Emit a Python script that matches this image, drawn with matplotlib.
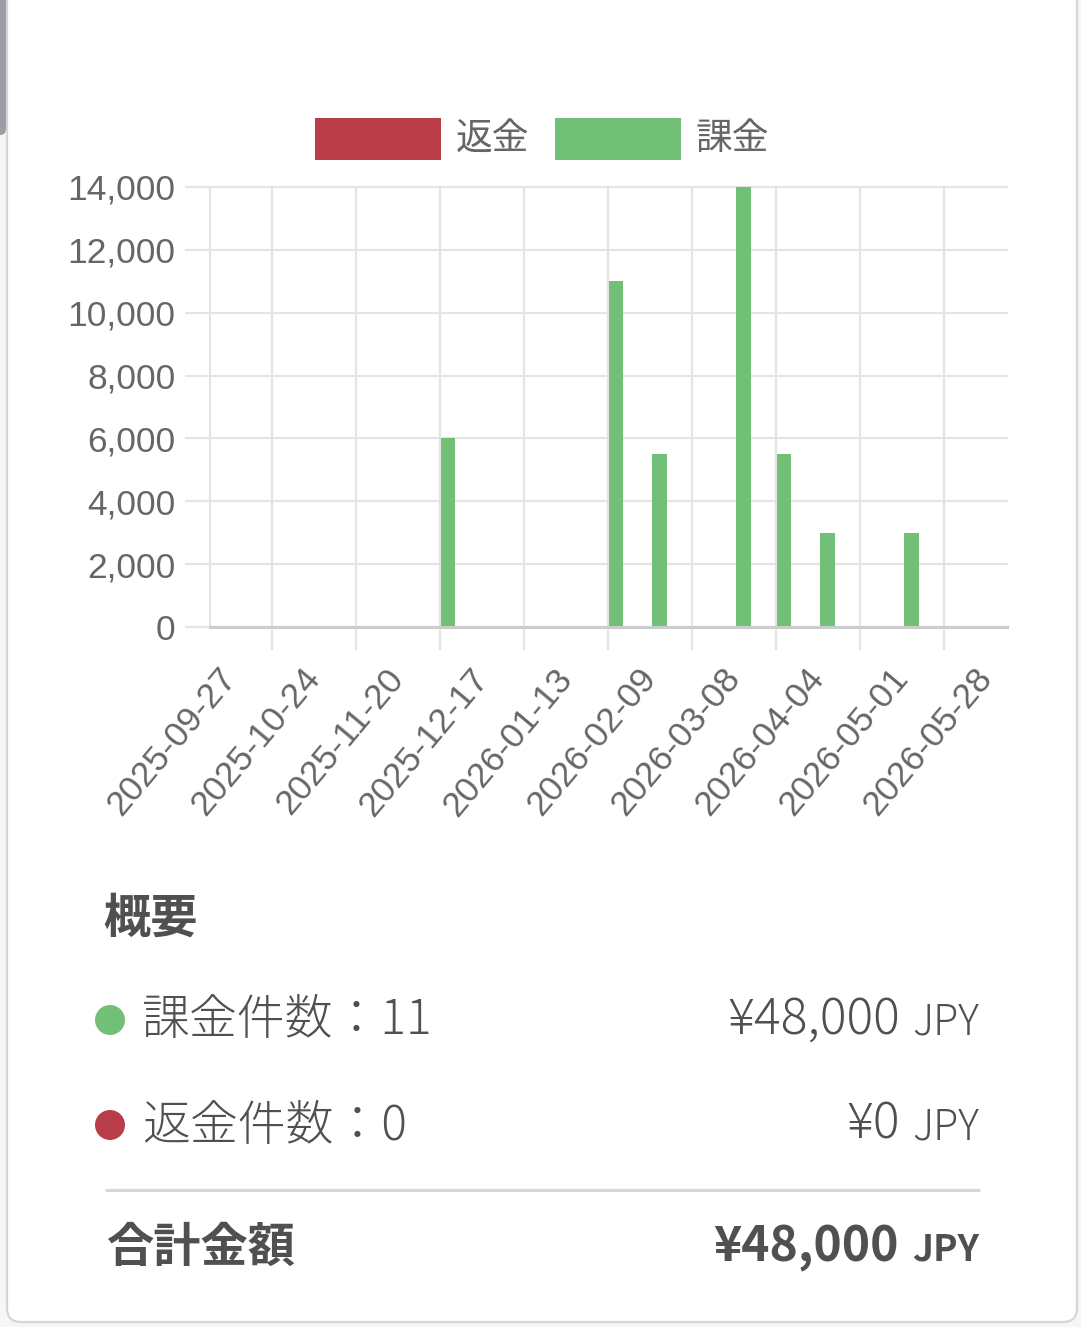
import numpy as np
import matplotlib
matplotlib.use("Agg")
import matplotlib.pyplot as plt
from matplotlib.patches import FancyBboxPatch, Rectangle, Circle

W, H = 1081, 1327

# data
base_date = np.datetime64("2025-09-27")
tick_dates = ["2025-09-27", "2025-10-24", "2025-11-20", "2025-12-17", "2026-01-13",
              "2026-02-09", "2026-03-08", "2026-04-04", "2026-05-01", "2026-05-28"]
bar_dates = ["2025-12-06", "2026-01-29", "2026-02-12", "2026-03-11",
             "2026-03-24", "2026-04-07", "2026-05-04"]
charge_values = [6000, 11000, 5500, 14000, 5500, 3000, 3000]
refund_values = [0, 0, 0, 0, 0, 0, 0]
legend_labels = ["返金", "課金"]
charge_count = 11
refund_count = 0
charge_total = 48000
refund_total = 0

RED = "#b83d48"
GREEN = "#72bf78"
GRID = "#e4e4e4"
TXT = "#666666"
DARK = "#505050"

CJK = ["Noto Sans CJK JP", "DejaVu Sans"]
LAT = ["Liberation Sans", "DejaVu Sans"]

def days(ds):
    return (np.array(ds, dtype="datetime64[D]") - base_date).astype(int)

fig = plt.figure(figsize=(W / 100, H / 100), dpi=100)
fig.patch.set_facecolor("#f6f6f7")

# background / card layer in pixel coords
bg = fig.add_axes([0, 0, 1, 1])
bg.set_xlim(0, W)
bg.set_ylim(H, 0)
bg.axis("off")
bg.add_patch(FancyBboxPatch((7, -40), 1070, 1362, boxstyle="round,pad=0,rounding_size=14",
                            facecolor="white", edgecolor="#d6d6d6", lw=1.6))
bg.add_patch(FancyBboxPatch((-12, -20), 18, 155, boxstyle="round,pad=0,rounding_size=6",
                            facecolor="#9c9ea6", edgecolor="none"))

# legend
for (x0, lab, col) in [(315, legend_labels[0], RED), (555, legend_labels[1], GREEN)]:
    bg.add_patch(Rectangle((x0, 118), 126, 42, facecolor=col, edgecolor="none"))
    bg.text(x0 + 141, 139, lab, fontsize=26.5, color=TXT, va="center", ha="left", family=CJK)

# summary
bg.text(103, 919, "概要", fontsize=34, fontweight="bold", color=DARK, va="center", family=CJK)
rows = [(1020, GREEN, f"課金件数：{charge_count}", f"¥{charge_total:,}"),
        (1125, RED, f"返金件数：{refund_count}", f"¥{refund_total:,}")]
for y, col, label, amount in rows:
    bg.add_patch(Circle((110, y), 15, facecolor=col, edgecolor="none"))
    bg.text(142, y + 1, label, fontsize=34.5, fontweight="light", color=DARK, va="center", family=CJK)
    bg.text(900, y, amount, fontsize=36, fontweight="light", color=DARK, va="center", ha="right", family=CJK)
    bg.text(979, y + 3, "JPY", fontsize=29.5, fontweight="light", color=DARK, va="center", ha="right", family=CJK)
bg.plot([105, 980], [1190, 1190], color="#d6d6d6", lw=2.2, solid_capstyle="butt")
bg.text(106, 1248, "合計金額", fontsize=34, fontweight="bold", color=DARK, va="center", family=CJK)
bg.text(899, 1247, f"¥{charge_total:,}", fontsize=34.5, fontweight="bold", color=DARK, va="center",
        ha="right", family=CJK)
bg.text(979, 1250, "JPY", fontsize=26.5, fontweight="bold", color=DARK, va="center", ha="right", family=CJK)

# chart
ax = fig.add_axes([210 / W, 1 - 627 / H, (1007 - 210) / W, 440 / H])
ax.patch.set_alpha(0)
px_per_day = 84 / 27
ax.set_xlim(-20 / px_per_day, (1007 - 230) / px_per_day)
ax.set_ylim(0, 14000)

bw = 14.5 / px_per_day
xb = days(bar_dates)
ax.bar(xb, refund_values, width=bw, color=RED, zorder=3)
ax.bar(xb, charge_values, width=bw, color=GREEN, zorder=3)

ax.set_yticks(np.arange(0, 14001, 2000))
ax.set_yticklabels([f"{v:,}" for v in range(0, 14001, 2000)], family=LAT)
ax.yaxis.grid(True, color=GRID, lw=1.5)
for gl in ax.get_ygridlines():
    gl.set_clip_on(False)

xt = days(tick_dates)
ax.set_xticks(xt)
ax.set_xticklabels(tick_dates, rotation=50, ha="right", rotation_mode="anchor", va="center", family=LAT)
ax.set_xticks(xt[:-1] + 13.5, minor=True)
ax.xaxis.grid(True, which="minor", color=GRID, lw=1.5)
ax.tick_params(axis="x", which="major", length=0, pad=33, labelsize=25.5, labelcolor=TXT)
ax.tick_params(axis="x", which="minor", length=16.5, width=1.5, color=GRID)
ax.tick_params(axis="y", length=18, width=1.5, color=GRID, pad=7, labelsize=25.5, labelcolor=TXT)
ax.set_axisbelow(True)

for s in ["top", "right"]:
    ax.spines[s].set_visible(False)
ax.spines["left"].set_color(GRID)
ax.spines["left"].set_linewidth(1.5)
ax.spines["bottom"].set_color("#cccccc")
ax.spines["bottom"].set_linewidth(2.2)
ax.spines["bottom"].set_zorder(4)

fig.savefig("out.png", dpi=100, facecolor=fig.get_facecolor())
